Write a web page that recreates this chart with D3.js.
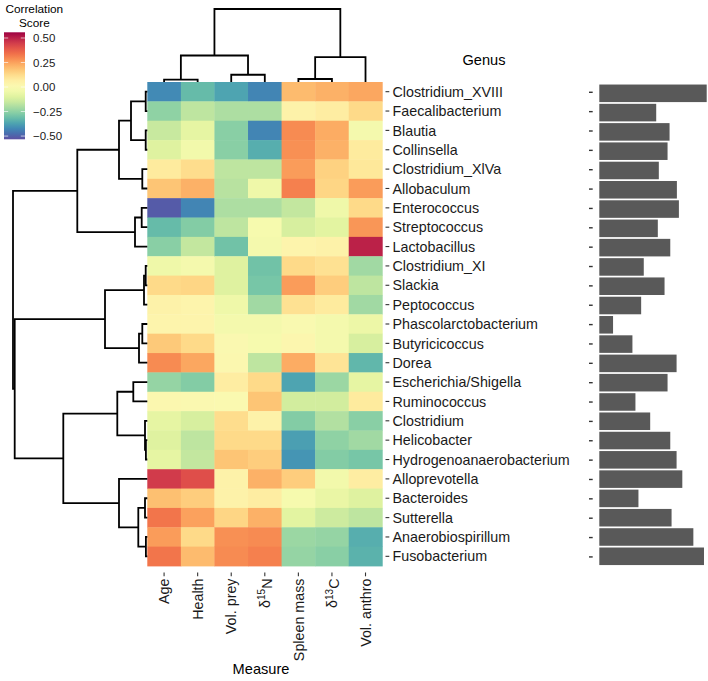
<!DOCTYPE html>
<html><head><meta charset="utf-8">
<script src="https://cdn.jsdelivr.net/npm/d3@7"></script>
<style>
body{margin:0;background:#fff}
svg{display:block}
text{font-family:"Liberation Sans",Arial,Helvetica,sans-serif}
</style>
</head><body>
<svg id="chart" width="708" height="681"></svg>
<script>
// ---------------- DATA ----------------
const genera = ["Clostridium_XVIII","Faecalibacterium","Blautia","Collinsella","Clostridium_XlVa","Allobaculum","Enterococcus","Streptococcus","Lactobacillus","Clostridium_XI","Slackia","Peptococcus","Phascolarctobacterium","Butyricicoccus","Dorea","Escherichia/Shigella","Ruminococcus","Clostridium","Helicobacter","Hydrogenoanaerobacterium","Alloprevotella","Bacteroides","Sutterella","Anaerobiospirillum","Fusobacterium"];
const measures = ["Age","Health","Vol. prey","d15N","Spleen mass","d13C","Vol. anthro"];

const corrAge       = [-0.42,-0.25,-0.15,-0.10,0.08,0.18,-0.51,-0.32,-0.26,-0.05,0.13,0.05,0.04,0.17,0.29,-0.24,0.02,-0.08,-0.10,-0.08,0.45,0.19,0.33,0.26,0.33];
const corrHealth    = [-0.32,-0.17,-0.08,-0.04,0.12,0.22,-0.43,-0.27,-0.16,-0.03,0.14,0.04,0.04,0.13,0.24,-0.27,0.01,-0.12,-0.17,-0.16,0.41,0.16,0.25,0.13,0.20];
const corrVolPrey   = [-0.37,-0.20,-0.26,-0.26,-0.17,-0.18,-0.20,-0.17,-0.30,-0.10,-0.10,-0.05,-0.03,0.01,0.02,0.07,0.005,0.12,0.13,0.18,0.05,0.05,0.14,0.28,0.29];
const corrD15N      = [-0.43,-0.20,-0.43,-0.35,-0.17,-0.05,-0.20,-0.02,-0.03,-0.30,-0.29,-0.22,-0.03,-0.02,-0.17,0.13,0.18,0.05,0.13,0.16,0.22,0.07,0.22,0.29,0.31];
const corrSpleen    = [0.20,0.05,0.29,0.28,0.26,0.31,-0.16,-0.12,0.04,0.13,0.26,0.11,0.00,0.03,0.23,-0.37,-0.13,-0.27,-0.38,-0.40,0.16,-0.02,-0.09,-0.23,-0.24];
const corrD13C      = [0.22,0.07,0.23,0.22,0.15,0.14,-0.05,-0.09,0.05,0.11,0.16,0.08,-0.03,-0.03,0.10,-0.23,-0.13,-0.19,-0.25,-0.27,-0.04,-0.07,-0.14,-0.24,-0.26];
const corrVolAnthro = [0.24,0.13,-0.03,0.08,0.09,0.26,0.13,0.27,0.50,-0.22,-0.17,-0.22,-0.06,-0.12,-0.33,-0.08,0.08,-0.26,-0.22,-0.29,0.07,-0.10,-0.17,-0.35,-0.34];

const barValues = [107,56.7,70,68,59.3,77.3,79.3,58.3,70.7,44.3,65,41.7,13.7,33,77,68,36,50.7,70.7,77,82.7,39,72,93.7,104.3];

const legendTicks = [0.5,0.25,0,-0.25,-0.5];
const legendRange = [-0.533, 0.558];

// dendrograms: [height, left, right]; leaves are names
const rowTree = [134.3,
  [70,
    [28.3, [16.3, [1.6,"Clostridium_XVIII","Faecalibacterium"], [1.6,"Blautia","Collinsella"]], [5,"Clostridium_XlVa","Allobaculum"]],
    [12.3, [5.6,"Enterococcus","Streptococcus"], "Lactobacillus"]],
  [132.6,
    [42.3, [3.3, [1.6,"Clostridium_XI","Slackia"], "Peptococcus"], [8.3, [5,"Phascolarctobacterium","Butyricicoccus"], "Dorea"]],
    [84,
      [30, [14,"Escherichia/Shigella","Ruminococcus"], [2.3,"Clostridium",[1.4,"Helicobacter","Hydrogenoanaerobacterium"]]],
      [28.3, "Alloprevotella", [9, [2.3,"Bacteroides","Sutterella"], [1.4,"Anaerobiospirillum","Fusobacterium"]]]]]];
const colTree = [73.3, [26.6, [2.3,"Age","Health"], [7.3,"Vol. prey","d15N"]], [25, [3,"Spleen mass","d13C"], "Vol. anthro"]];

// ---------------- LAYOUT ----------------
const svg = d3.select("#chart");
const hmLeft = 147.3, hmRight = 382.3, hmTop = 82, hmBottom = 566;
const seriesByMeasure = [corrAge,corrHealth,corrVolPrey,corrD15N,corrSpleen,corrD13C,corrVolAnthro];

const x = d3.scaleBand().domain(measures).range([hmLeft, hmRight]);
const y = d3.scaleBand().domain(genera).range([hmTop, hmBottom]);
const color = d3.scaleSequential(d3.interpolateSpectral).domain([legendRange[1], legendRange[0]]);

// cells
const cells = [];
measures.forEach((m,j)=>genera.forEach((g,i)=>cells.push({m,g,v:seriesByMeasure[j][i]})));
svg.append("g").selectAll("rect").data(cells).join("rect")
  .attr("x", d=>x(d.m)).attr("y", d=>y(d.g))
  .attr("width", x.bandwidth()+0.4).attr("height", y.bandwidth()+0.4)
  .attr("fill", d=>color(d.v));

// row dendrogram
const rowH = d3.scaleLinear().domain([0,134.3]).range([hmLeft, 13]);
const dg = svg.append("g").attr("fill","none").attr("stroke","#000").attr("stroke-width",1.8);
function drawRow(node){
  if (typeof node === "string") return {p: y(node)+y.bandwidth()/2, h:0};
  const a = drawRow(node[1]), b = drawRow(node[2]);
  const xn = rowH(node[0]);
  dg.append("path").attr("d", `M${rowH(a.h)},${a.p}H${xn}V${b.p}H${rowH(b.h)}`);
  return {p:(a.p+b.p)/2, h:node[0]};
}
drawRow(rowTree);

// column dendrogram
const colH = d3.scaleLinear().domain([0,73.3]).range([hmTop, 9]);
function drawCol(node){
  if (typeof node === "string") return {p: x(node)+x.bandwidth()/2, h:0};
  const a = drawCol(node[1]), b = drawCol(node[2]);
  const yn = colH(node[0]);
  dg.append("path").attr("d", `M${a.p},${colH(a.h)}V${yn}H${b.p}V${colH(b.h)}`);
  return {p:(a.p+b.p)/2, h:node[0]};
}
drawCol(colTree);

// row labels
const rl = svg.append("g");
genera.forEach(g=>{
  const cy = y(g)+y.bandwidth()/2;
  rl.append("line").attr("x1",385.5).attr("x2",389.3).attr("y1",cy).attr("y2",cy).attr("stroke","#333").attr("stroke-width",1.1);
  rl.append("text").attr("x",392.5).attr("y",cy).attr("dy","0.36em").attr("font-size","14.3px").attr("fill","#1a1a1a").text(g);
});

// column labels
const cl = svg.append("g");
measures.forEach(m=>{
  const cx = x(m)+x.bandwidth()/2;
  cl.append("line").attr("x1",cx).attr("x2",cx).attr("y1",572.5).attr("y2",576.3).attr("stroke","#333").attr("stroke-width",1.1);
  const t = cl.append("text").attr("transform",`translate(${cx},578.5) rotate(-90)`)
    .attr("text-anchor","end").attr("dy","0.36em").attr("font-size","14.3px").attr("fill","#1a1a1a");
  if (m==="d15N" || m==="d13C"){
    t.append("tspan").text("\u03b4");
    t.append("tspan").attr("dy","-0.45em").attr("font-size","10px").text(m==="d15N"?"15":"13");
    t.append("tspan").attr("dy","0.45em").text(m==="d15N"?"N":"C");
  } else t.text(m);
});

// axis titles
svg.append("text").attr("x",484).attr("y",65).attr("text-anchor","middle").attr("font-size","14.6px").text("Genus");
svg.append("text").attr("x",261).attr("y",674).attr("text-anchor","middle").attr("font-size","14.6px").text("Measure");

// bars
const bx = d3.scaleLinear().domain([0, d3.max(barValues)]).range([599.3, 706.7]);
const by = d3.scaleBand().domain(genera).range([hmTop, hmBottom]).padding(0.09);
svg.append("g").selectAll("rect").data(genera).join("rect")
  .attr("x", bx(0)).attr("y", d=>by(d)+0.8).attr("height", by.bandwidth())
  .attr("width", (d,i)=>bx(barValues[i])-bx(0)).attr("fill","#595959");
svg.append("g").selectAll("line").data(genera).join("line")
  .attr("x1",589).attr("x2",592.7).attr("y1",d=>y(d)+y.bandwidth()/2+0.6).attr("y2",d=>y(d)+y.bandwidth()/2+0.6)
  .attr("stroke","#333").attr("stroke-width",1.4);

// legend
const lg = svg.append("g");
const ly = d3.scaleLinear().domain([legendRange[1], legendRange[0]]).range([32.3, 139.3]);
const grad = svg.append("defs").append("linearGradient").attr("id","lgGrad").attr("x1",0).attr("x2",0).attr("y1",0).attr("y2",1);
d3.range(0,1.0001,0.05).forEach(t=>{
  const v = legendRange[1] - t*(legendRange[1]-legendRange[0]);
  grad.append("stop").attr("offset",t).attr("stop-color",color(v));
});
lg.append("rect").attr("x",4).attr("y",ly.range()[0]).attr("width",21).attr("height",ly.range()[1]-ly.range()[0]).attr("fill","url(#lgGrad)");
legendTicks.forEach(v=>{
  lg.append("line").attr("x1",4).attr("x2",8.2).attr("y1",ly(v)).attr("y2",ly(v)).attr("stroke","#fff").attr("stroke-width",0.8).attr("opacity",0.8);
  lg.append("line").attr("x1",20.8).attr("x2",25).attr("y1",ly(v)).attr("y2",ly(v)).attr("stroke","#fff").attr("stroke-width",0.8).attr("opacity",0.8);
  lg.append("text").attr("x",33).attr("y",ly(v)).attr("dy","0.36em").attr("font-size","11.5px").attr("fill","#1a1a1a").text(d3.format(".2f")(v));
});
lg.append("text").attr("x",34.3).attr("y",13).attr("text-anchor","middle").attr("font-size","11.8px").text("Correlation");
lg.append("text").attr("x",34.3).attr("y",27).attr("text-anchor","middle").attr("font-size","11.8px").text("Score");
</script>
</body></html>
